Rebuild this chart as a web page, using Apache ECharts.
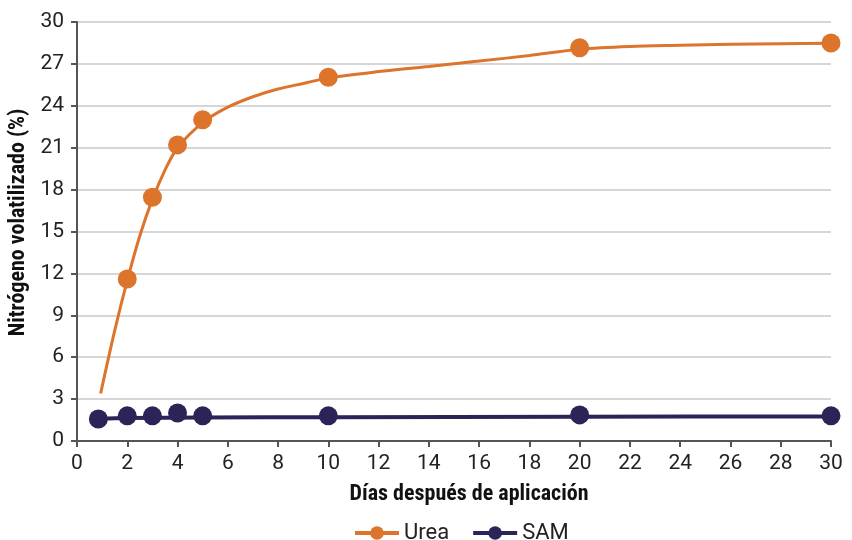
<!DOCTYPE html>
<html>
<head>
<meta charset="utf-8">
<script src="https://cdn.jsdelivr.net/npm/echarts@6/dist/echarts.min.js"></script>
<style>html,body{margin:0;padding:0;background:#fff}#c{width:852px;height:540px}</style>
</head>
<body>
<div id="c"></div>
<script>
// Measured points (días, % N volatilizado)
var ureaObsX = [2, 3, 4, 5, 10, 20, 30];
var ureaObsY = [11.6, 17.45, 21.2, 23.0, 26.05, 28.15, 28.5];
var samObsX = [0.85, 2, 3, 4, 5, 10, 20, 30];
var samObsY = [1.57, 1.8, 1.8, 2.0, 1.8, 1.8, 1.87, 1.8];
// Fitted curves
var ureaFitX = [0.94, 1.5, 2, 2.5, 3, 3.5, 4, 5, 6, 7, 8, 9, 10, 12, 14, 16, 18, 20, 22, 24, 26, 28, 30];
var ureaFitY = [3.4, 7.9, 11.5, 14.7, 17.3, 19.4, 21.0, 22.8, 23.9, 24.65, 25.2, 25.6, 26.0, 26.45, 26.82, 27.2, 27.6, 28.05, 28.25, 28.33, 28.4, 28.45, 28.48];
var samFitX = [0.85, 2, 5, 10, 20, 30];
var samFitY = [1.57, 1.64, 1.68, 1.70, 1.74, 1.75];
var xTicks = {min: 0, max: 30, interval: 2};
var yTicks = {min: 0, max: 30, interval: 3};
var seriesNames = ['Urea', 'SAM'];
var xTitle = 'Días después de aplicación';
var yTitle = 'Nitrógeno volatilizado (%)';

function zip(a, b) { return a.map(function (v, i) { return [v, b[i]]; }); }

var ORANGE = '#dc742c', NAVY = '#2b2557';
var axisCol = '#555555';
var labelFont = 'Roboto';
var titleFont = '"Roboto Condensed", "Liberation Sans Narrow", Roboto';

var chart = echarts.init(document.getElementById('c'), null, {renderer: 'canvas'});
chart.setOption({
  animation: false,
  backgroundColor: '#ffffff',
  grid: {left: 77, right: 21, top: 22, bottom: 99, containLabel: false, outerBoundsMode: 'none'},
  legend: {
    data: seriesNames,
    top: 517,
    left: 348,
    itemWidth: 44,
    itemHeight: 17,
    itemGap: 22,
    lineStyle: {width: 4},
    textStyle: {fontFamily: labelFont, fontSize: 22, color: '#222'}
  },
  xAxis: {
    type: 'value', min: xTicks.min, max: xTicks.max, interval: xTicks.interval,
    name: xTitle, nameLocation: 'middle', nameGap: 42,
    nameTextStyle: {fontFamily: titleFont, fontWeight: 'bold', fontSize: 22, color: '#111', padding: [0, 0, 0, 30]},
    axisLine: {show: true, lineStyle: {color: axisCol, width: 2}},
    axisTick: {show: true, length: 6, lineStyle: {color: axisCol, width: 2}},
    axisLabel: {fontFamily: labelFont, fontSize: 21, color: '#222', margin: 12},
    splitLine: {show: false}
  },
  yAxis: {
    type: 'value', min: yTicks.min, max: yTicks.max, interval: yTicks.interval,
    name: yTitle, nameLocation: 'middle', nameGap: 45,
    nameTextStyle: {fontFamily: titleFont, fontWeight: 'bold', fontSize: 22, color: '#111', padding: [0, 0, 0, 18]},
    axisLine: {show: true, lineStyle: {color: axisCol, width: 2}},
    axisTick: {show: true, length: 6, lineStyle: {color: axisCol, width: 2}},
    axisLabel: {fontFamily: labelFont, fontSize: 21, color: '#222', margin: 13},
    splitLine: {show: true, lineStyle: {color: '#d6d6d6', width: 2}}
  },
  series: [
    {name: 'Urea', type: 'line', data: zip(ureaFitX, ureaFitY), smooth: 0.3, showSymbol: false,
     symbol: 'circle', symbolSize: 18, itemStyle: {color: ORANGE}, lineStyle: {color: ORANGE, width: 3}, z: 2},
    {name: 'Urea', type: 'scatter', data: zip(ureaObsX, ureaObsY), symbol: 'circle', symbolSize: 19,
     itemStyle: {color: ORANGE, opacity: 1}, z: 3},
    {name: 'SAM', type: 'line', data: zip(samFitX, samFitY), smooth: 0.3, showSymbol: false,
     symbol: 'circle', symbolSize: 18, itemStyle: {color: NAVY}, lineStyle: {color: NAVY, width: 4}, z: 2},
    {name: 'SAM', type: 'scatter', data: zip(samObsX, samObsY), symbol: 'circle', symbolSize: 19,
     itemStyle: {color: NAVY, opacity: 1}, z: 3}
  ]
});
</script>
</body>
</html>
